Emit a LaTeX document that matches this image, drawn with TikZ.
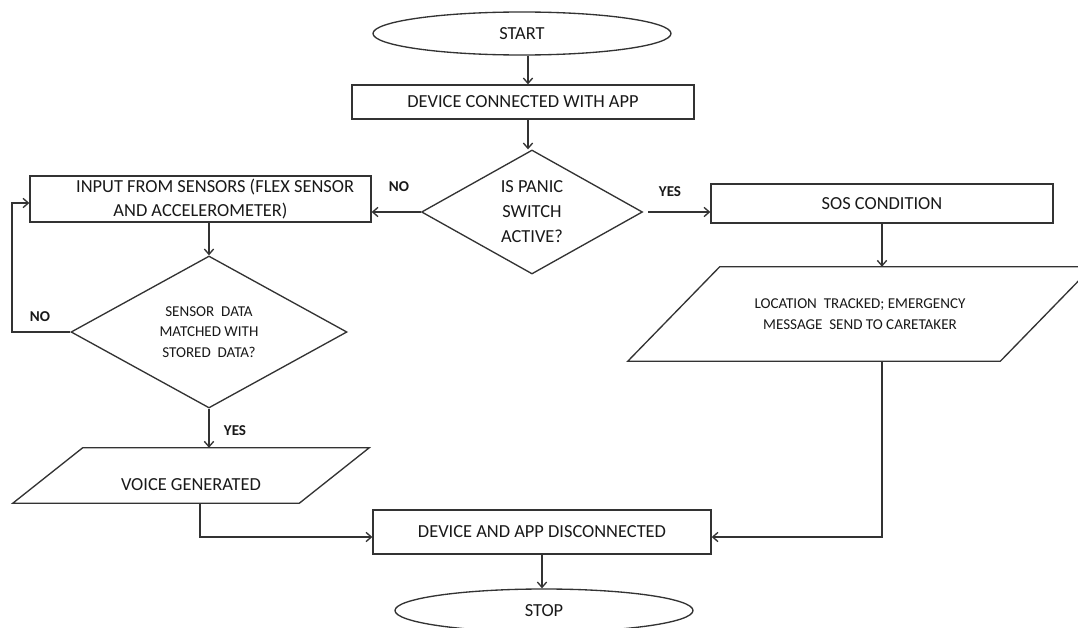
\documentclass[tikz,border=0pt]{standalone}
\usepackage{fontspec}
\setmainfont{Carlito}
\usetikzlibrary{shapes.geometric,arrows.meta,calc}
\begin{document}
\begin{tikzpicture}[x=0.75pt,y=-0.75pt,
  every node/.style={text=black!90},
  mainfont/.style={font=\fontsize{13.8}{18}\selectfont},
  smallfont/.style={font=\fontsize{11.3}{15.5}\selectfont},
  shp/.style={draw=black!80, line width=1pt, inner sep=0pt, align=center, mainfont},
  term/.style={shp, ellipse, minimum width=223.5pt, minimum height=32.25pt},
  proc/.style={shp, rectangle},
  decision/.style={shp, diamond, aspect=1.8},
  iobody/.style={rectangle, inner sep=0pt, align=center, mainfont},
  iodraw/.style={draw=black!80, line width=1pt, line join=miter},
  lbl/.style={font=\bfseries\fontsize{11.3}{12}\selectfont},
  arr/.style={draw=black!80, line width=1pt, -{Straight Barb[length=4pt,width=7pt]}}
]
\fill[white] (0,0) rectangle (1078,628);
\useasboundingbox (0,0) rectangle (1078,628);

\node[term] (start) at (522,33.5) {START};
\node[proc, minimum width=256.5pt, minimum height=25.5pt] (dev) at (523,102) {DEVICE CONNECTED WITH APP};
\node[decision, minimum width=165.75pt, minimum height=93pt, font=\fontsize{13.8}{18.75}\selectfont] (panic) at (532,212) {IS PANIC\\SWITCH\\ACTIVE?};
\node[proc, minimum width=255.75pt, minimum height=34.5pt] (input) at (200.5,199) {\hspace*{22pt}INPUT FROM SENSORS (FLEX SENSOR\\AND ACCELEROMETER)};
\node[proc, minimum width=256.5pt, minimum height=29.25pt] (sos) at (882,203.5) {SOS CONDITION};
\node[iobody, minimum width=279pt, minimum height=70.5pt, smallfont] (loc) at (860,314) {LOCATION\ \ TRACKED;\ EMERGENCY\\MESSAGE\ \ SEND TO CARETAKER};
\draw[iodraw] ($(loc.north west)+(46,0)$) -- ($(loc.north east)+(46,0)$) -- ($(loc.south east)+(-46,0)$) -- ($(loc.south west)+(-46,0)$) -- cycle;
\node[decision, minimum width=207pt, minimum height=114pt, smallfont] (sensor) at (209,332) {SENSOR\ \ DATA\\MATCHED WITH\\STORED\ \ DATA?};
\node[iobody, minimum width=214.5pt, minimum height=41.25pt] (voice) at (191,475.5) {\raisebox{-11pt}[0pt][0pt]{VOICE GENERATED}};
\draw[iodraw] ($(voice.north west)+(35,0)$) -- ($(voice.north east)+(35,0)$) -- ($(voice.south east)+(-35,0)$) -- ($(voice.south west)+(-35,0)$) -- cycle;
\node[proc, minimum width=253.5pt, minimum height=33pt] (disc) at (542,532) {DEVICE AND APP DISCONNECTED};
\node[term] (stop) at (544,610.5) {STOP};

\coordinate (loopx) at (12,0);

\draw[arr] ($(start.south)+(6,0)$) -- ($(dev.north)+(5,0)$);
\draw[arr] ($(dev.south)+(5,0)$) -- ($(panic.north)+(-4,0)$);
\draw[arr] (panic.west) -- (panic.west -| input.east);
\draw[arr] ($(panic.east)+(5,0)$) -- (panic.east -| sos.west);
\draw[arr] (sos.south) -- (sos.south |- loc.north);
\draw[arr] (input.south -| sensor.north) -- (sensor.north);
\draw[arr] (sensor.west) -- (sensor.west -| loopx) |- ($(input.west)+(0,4)$);
\draw[arr] (sensor.south) -- (sensor.south |- voice.north);
\draw[arr] ($(voice.south)+(9,0)$) |- ($(disc.west)+(0,5)$);
\draw[arr] (loc.south -| sos.south) |- ($(disc.east)+(0,5)$);
\draw[arr] (disc.south) -- (disc.south |- stop.north);

\node[lbl] (no1) at (399,187) {NO};
\node[lbl] (yes1) at (670,192) {YES};
\node[lbl] (no2) at (40,317) {NO};
\node[lbl] (yes2) at (235,431) {YES};
\end{tikzpicture}
\end{document}
